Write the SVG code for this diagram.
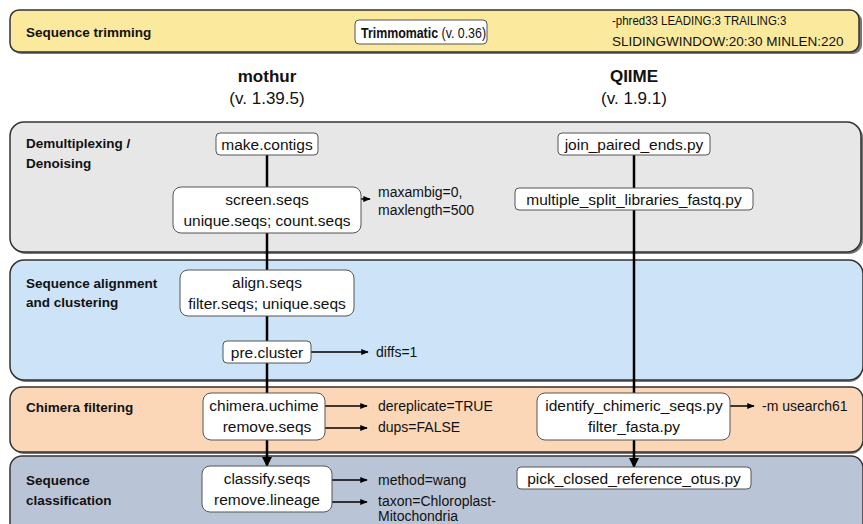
<svg xmlns="http://www.w3.org/2000/svg" width="863" height="524" viewBox="0 0 863 524">
<style>
text{font-family:"Liberation Sans",Arial,sans-serif;fill:#111}
.lab{font-size:13.5px;font-weight:bold}
.box{fill:#fff;stroke:#555;stroke-width:1}
.bt{font-size:15.5px;text-anchor:middle}
.pt{font-size:14px}
.panel{stroke:#333;stroke-width:1.5}
.shadow{fill:#777}
.ln{stroke:#000;stroke-width:2.5;fill:none}
.ar{stroke:#000;stroke-width:1.5;fill:none}
.ttl{font-size:17px;text-anchor:middle}
</style>
<defs>
<marker id="ah" viewBox="0 0 10 10" refX="9" refY="5" markerWidth="5" markerHeight="5" orient="auto" markerUnits="strokeWidth"><path d="M0,1 L10,5 L0,9 z" fill="#000"/></marker>
<marker id="ahd" viewBox="0 0 10 10" refX="9" refY="5" markerWidth="4" markerHeight="4" orient="auto" markerUnits="strokeWidth"><path d="M0,0 L10,5 L0,10 z" fill="#000"/></marker>
</defs>
<rect width="863" height="524" fill="#fff"/>

<!-- panels -->
<g id="panel-trimming">
<rect class="shadow" x="12" y="12" width="850" height="42" rx="9"/>
<rect class="panel" x="10" y="10" width="849" height="42" rx="9" fill="#FBEA9E"/>
<text class="lab" x="26" y="37">Sequence trimming</text>
</g>
<g id="panel-demux">
<rect class="shadow" x="12" y="124" width="851" height="130" rx="14"/>
<rect class="panel" x="10" y="122" width="851" height="130" rx="14" fill="#E7E7E7"/>
<text class="lab" x="26" y="148">Demultiplexing /</text>
<text class="lab" x="26" y="168">Denoising</text>
</g>
<g id="panel-align">
<rect class="shadow" x="12" y="262" width="851" height="120" rx="14"/>
<rect class="panel" x="10" y="260" width="853" height="120" rx="14" fill="#CCE3F8"/>
<text class="lab" x="26" y="288">Sequence alignment</text>
<text class="lab" x="26" y="307">and clustering</text>
</g>
<g id="panel-chimera">
<rect class="shadow" x="12" y="389" width="851" height="65" rx="12"/>
<rect class="panel" x="10" y="387" width="853" height="65" rx="12" fill="#FBD7B8"/>
<text class="lab" x="26" y="412">Chimera filtering</text>
</g>
<g id="panel-classification">
<rect class="panel" x="10" y="456" width="853" height="90" rx="12" fill="#B9C4D6"/>
<text class="lab" x="26" y="485">Sequence</text>
<text class="lab" x="26" y="505">classification</text>
</g>

<!-- titles -->
<g id="title-mothur">
<text class="ttl" x="267" y="82" font-weight="bold">mothur</text>
<text class="ttl" x="267" y="104">(v. 1.39.5)</text>
</g>
<g id="title-qiime">
<text class="ttl" x="634" y="82" font-weight="bold">QIIME</text>
<text class="ttl" x="634" y="104">(v. 1.9.1)</text>
</g>

<!-- connectors -->
<g id="connectors">
<line class="ln" x1="267" y1="150" x2="267" y2="440"/>
<line class="ln" x1="267" y1="440" x2="267" y2="466" marker-end="url(#ahd)"/>
<line class="ln" x1="634" y1="150" x2="634" y2="440"/>
<line class="ln" x1="634" y1="440" x2="634" y2="467" marker-end="url(#ahd)"/>
<line class="ar" x1="310" y1="199" x2="370" y2="199" marker-end="url(#ah)"/>
<line class="ar" x1="311" y1="352" x2="368" y2="352" marker-end="url(#ah)"/>
<line class="ar" x1="325" y1="406" x2="367" y2="406" marker-end="url(#ah)"/>
<line class="ar" x1="312" y1="428" x2="367" y2="428" marker-end="url(#ah)"/>
<line class="ar" x1="730" y1="406" x2="754" y2="406" marker-end="url(#ah)"/>
<line class="ar" x1="324" y1="480" x2="367" y2="480" marker-end="url(#ah)"/>
<line class="ar" x1="320" y1="502" x2="367" y2="502" marker-end="url(#ah)"/>
</g>

<!-- nodes -->
<g id="trimmomatic">
<rect class="box" x="355" y="20" width="132" height="24" rx="4"/>
<text transform="translate(361,38) scale(0.8,1)" x="0" y="0" font-size="15.5"><tspan font-weight="bold">Trimmomatic</tspan> (v. 0.36)</text>
</g>
<g id="trim-params">
<text transform="translate(612,25) scale(0.85,1)" x="0" y="0" font-size="13.5">-phred33 LEADING:3 TRAILING:3</text>
<text x="612" y="46" font-size="13.5">SLIDINGWINDOW:20:30 MINLEN:220</text>
</g>

<g id="make-contigs">
<rect class="box" x="216" y="133" width="102" height="22" rx="4"/>
<text class="bt" x="267" y="150">make.contigs</text>
</g>
<g id="screen-seqs">
<rect class="box" x="173" y="187" width="188" height="46" rx="8"/>
<text class="bt" x="267" y="205">screen.seqs</text>
<text class="bt" x="267" y="226">unique.seqs; count.seqs</text>
</g>
<g id="screen-params">
<text class="pt" x="378" y="197">maxambig=0,</text>
<text class="pt" x="378" y="215">maxlength=500</text>
</g>
<g id="join-paired-ends">
<rect class="box" x="558" y="133" width="152" height="22" rx="4"/>
<text class="bt" x="634" y="150">join_paired_ends.py</text>
</g>
<g id="multiple-split-libraries">
<rect class="box" x="515" y="188" width="238" height="22" rx="4"/>
<text class="bt" x="634" y="205">multiple_split_libraries_fastq.py</text>
</g>

<g id="align-seqs">
<rect class="box" x="180" y="270" width="174" height="46" rx="8"/>
<text class="bt" x="267" y="288">align.seqs</text>
<text class="bt" x="267" y="309">filter.seqs; unique.seqs</text>
</g>
<g id="pre-cluster">
<rect class="box" x="223" y="341" width="88" height="22" rx="4"/>
<text class="bt" x="267" y="358">pre.cluster</text>
</g>
<g id="precluster-params">
<text class="pt" x="376" y="357">diffs=1</text>
</g>

<g id="chimera-uchime">
<rect class="box" x="203" y="393" width="122" height="47" rx="8"/>
<text class="bt" x="264" y="411">chimera.uchime</text>
<text class="bt" x="267" y="432">remove.seqs</text>
</g>
<g id="chimera-params">
<text class="pt" x="378" y="411">dereplicate=TRUE</text>
<text class="pt" x="378" y="432">dups=FALSE</text>
</g>
<g id="identify-chimeric">
<rect class="box" x="537" y="393" width="193" height="47" rx="8"/>
<text class="bt" x="634" y="411">identify_chimeric_seqs.py</text>
<text class="bt" x="634" y="432">filter_fasta.py</text>
</g>
<g id="identify-params">
<text class="pt" x="762" y="411">-m usearch61</text>
</g>

<g id="classify-seqs">
<rect class="box" x="202" y="466" width="130" height="46" rx="8"/>
<text class="bt" x="267" y="484">classify.seqs</text>
<text class="bt" x="267" y="505">remove.lineage</text>
</g>
<g id="classify-params">
<text class="pt" x="378" y="485">method=wang</text>
<text class="pt" x="378" y="506">taxon=Chloroplast-</text>
<text class="pt" x="378" y="521">Mitochondria</text>
</g>
<g id="pick-closed">
<rect class="box" x="517" y="467" width="234" height="22" rx="4"/>
<text class="bt" x="634" y="484">pick_closed_reference_otus.py</text>
</g>
</svg>
